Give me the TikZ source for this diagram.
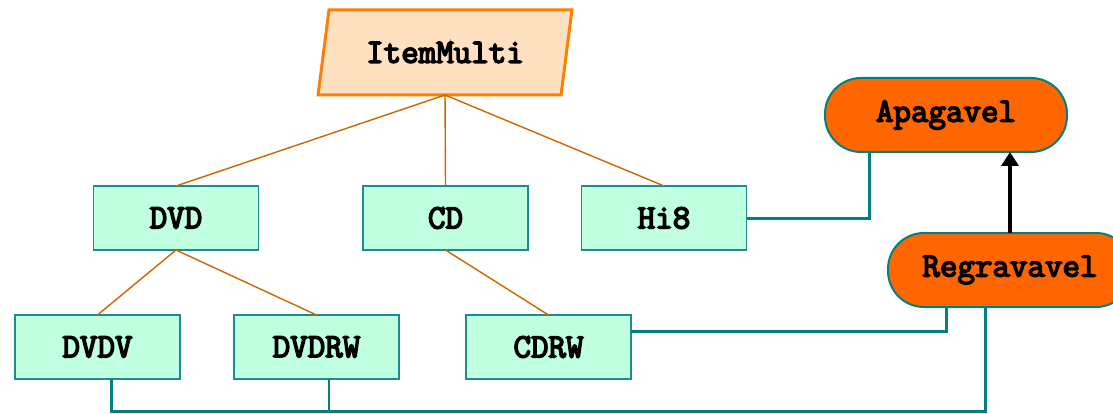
\documentclass[tikz,border=0pt]{standalone}
\usepackage{fontspec}
\newfontfamily\labelfont{Latin Modern Mono}[FakeBold=4.5]
\usetikzlibrary{shapes.geometric,arrows.meta}

\definecolor{peach}{RGB}{255,224,192}
\definecolor{peachline}{RGB}{255,128,0}
\definecolor{treeline}{RGB}{204,102,0}
\definecolor{mint}{RGB}{192,255,224}
\definecolor{tealline}{RGB}{30,140,140}
\definecolor{capsule}{RGB}{255,102,0}
\definecolor{linkteal}{RGB}{0,128,128}

\tikzset{
  lbl/.style={font=\fontsize{34}{38}\labelfont\bfseries, text=black},
  root/.style={lbl, trapezium, trapezium left angle=70.6, trapezium right angle=109.4,
    trapezium stretches=true, minimum width=254pt, minimum height=85pt,
    fill=peach, draw=peachline, line width=3pt, outer sep=0pt, inner sep=0pt},
  leaf/.style={lbl, rectangle, fill=mint, draw=tealline, line width=1.5pt,
    minimum width=165pt, minimum height=64pt, outer sep=0pt, inner sep=0pt},
  iface/.style={lbl, rectangle, rounded corners=36pt, fill=capsule, draw=linkteal,
    line width=2pt, minimum height=74pt, outer sep=0pt, inner sep=0pt},
  tree/.style={draw=treeline, line width=1.4pt},
  link/.style={draw=linkteal, line width=3pt},
  thinlink/.style={draw=linkteal, line width=1.3pt},
  extends/.style={draw=black, line width=3.5pt, -{Triangle[length=14pt,width=17pt]}}
}

\begin{document}
\begin{tikzpicture}[x=1pt, y=-1pt]
  \useasboundingbox (0,0) rectangle (1113,414);
  \clip (0,0) rectangle (1113,414);

  % class hierarchy
  \node[root] (item) at (445,52.5) {ItemMulti};

  \node[leaf] (dvd) at (176,218) {DVD};
  \node[leaf] (cd)  at (445.5,218) {CD};
  \node[leaf] (hi8) at (664,218) {Hi8};

  \node[leaf] (dvdv)  at (97.5,347) {DVDV};
  \node[leaf] (dvdrw) at (316.5,347) {DVDRW};
  \node[leaf] (cdrw)  at (548.5,347) {CDRW};

  % interfaces
  \node[iface, minimum width=242pt] (apagavel) at (946,115) {Apagavel};
  \node[iface, minimum width=244pt] (regravavel) at (1010,270) {Regravavel};

  % inheritance tree
  \draw[tree] (item.south) -- (dvd.north);
  \draw[tree] (item.south) -- (cd.north);
  \draw[tree] (item.south) -- (hi8.north);
  \draw[tree] (dvd.south) -- (dvdv.north);
  \draw[tree] (dvd.south) -- (dvdrw.north);
  \draw[tree] (cd.south) -- (cdrw.north);

  % interface links
  \coordinate (apagavelHook) at ([xshift=-77pt]apagavel.south);
  \coordinate (regravavelHookA) at ([xshift=-64pt]regravavel.south);
  \coordinate (regravavelHookB) at ([xshift=-25pt]regravavel.south);
  \coordinate (busLeft) at ([xshift=13.5pt]dvdv.south);
  \coordinate (busMid) at ([xshift=12.5pt]dvdrw.south);
  \coordinate (busY) at (0,411);

  \draw[link] (hi8.east) -| (apagavelHook);
  \draw[link] ([yshift=16pt]cdrw.east) -| (regravavelHookA);
  \draw[link] (busLeft) |- (busY -| regravavelHookB) -- (regravavelHookB);
  \draw[thinlink] (busMid) -- (busY -| busMid);

  \draw[extends] (regravavel.north) -- (apagavel.south -| regravavel.north);
\end{tikzpicture}
\end{document}
